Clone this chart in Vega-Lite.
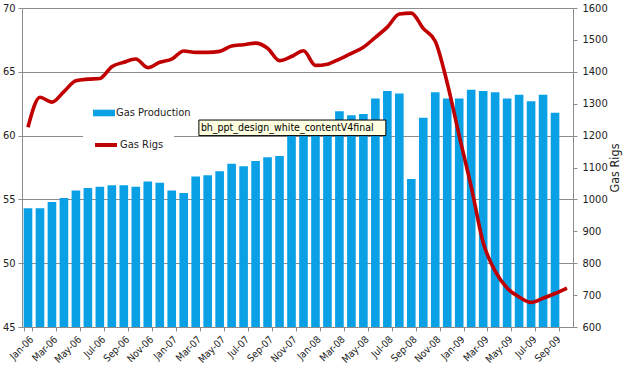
{
  "$schema": "https://vega.github.io/schema/vega-lite/v6.json",
  "width": 551,
  "height": 319,
  "autosize": {"type": "none"},
  "padding": {"left": 22, "top": 8, "right": 55, "bottom": 47},
  "background": "white",
  "config": {
    "view": {"stroke": null},
    "font": "DejaVu Sans Condensed, DejaVu Sans",
    "axis": {
      "domainColor": "#8c8c8c",
      "tickColor": "#8c8c8c",
      "gridColor": "#8c8c8c",
      "labelColor": "#222222",
      "labelFont": "DejaVu Sans Condensed, DejaVu Sans",
      "titleFont": "DejaVu Sans Condensed, DejaVu Sans",
      "labelFontSize": 11,
      "tickSize": 4
    },
    "legend": {"labelFont": "DejaVu Sans Condensed, DejaVu Sans", "labelColor": "#222222"}
  },
  "data": {
    "values": [
      {"month": "Jan-06", "production": 54.3, "rigs": 1226},
      {"month": "Feb-06", "production": 54.3, "rigs": 1320},
      {"month": "Mar-06", "production": 54.8, "rigs": 1305},
      {"month": "Apr-06", "production": 55.1, "rigs": 1338},
      {"month": "May-06", "production": 55.7, "rigs": 1372},
      {"month": "Jun-06", "production": 55.9, "rigs": 1377},
      {"month": "Jul-06", "production": 56.0, "rigs": 1379},
      {"month": "Aug-06", "production": 56.1, "rigs": 1416},
      {"month": "Sep-06", "production": 56.1, "rigs": 1430},
      {"month": "Oct-06", "production": 56.0, "rigs": 1440},
      {"month": "Nov-06", "production": 56.4, "rigs": 1413},
      {"month": "Dec-06", "production": 56.3, "rigs": 1430},
      {"month": "Jan-07", "production": 55.7, "rigs": 1440},
      {"month": "Feb-07", "production": 55.5, "rigs": 1465},
      {"month": "Mar-07", "production": 56.8, "rigs": 1461},
      {"month": "Apr-07", "production": 56.9, "rigs": 1461},
      {"month": "May-07", "production": 57.2, "rigs": 1464},
      {"month": "Jun-07", "production": 57.8, "rigs": 1481},
      {"month": "Jul-07", "production": 57.6, "rigs": 1485},
      {"month": "Aug-07", "production": 58.0, "rigs": 1490},
      {"month": "Sep-07", "production": 58.3, "rigs": 1474},
      {"month": "Oct-07", "production": 58.4, "rigs": 1435},
      {"month": "Nov-07", "production": 60.3, "rigs": 1448},
      {"month": "Dec-07", "production": 60.5, "rigs": 1466},
      {"month": "Jan-08", "production": 60.6, "rigs": 1420},
      {"month": "Feb-08", "production": 60.6, "rigs": 1424},
      {"month": "Mar-08", "production": 61.9, "rigs": 1440},
      {"month": "Apr-08", "production": 61.6, "rigs": 1458},
      {"month": "May-08", "production": 61.7, "rigs": 1477},
      {"month": "Jun-08", "production": 62.9, "rigs": 1508},
      {"month": "Jul-08", "production": 63.5, "rigs": 1540},
      {"month": "Aug-08", "production": 63.3, "rigs": 1581},
      {"month": "Sep-08", "production": 56.6, "rigs": 1584},
      {"month": "Oct-08", "production": 61.4, "rigs": 1536},
      {"month": "Nov-08", "production": 63.4, "rigs": 1496},
      {"month": "Dec-08", "production": 62.9, "rigs": 1365},
      {"month": "Jan-09", "production": 62.9, "rigs": 1200},
      {"month": "Feb-09", "production": 63.6, "rigs": 1040},
      {"month": "Mar-09", "production": 63.5, "rigs": 865},
      {"month": "Apr-09", "production": 63.4, "rigs": 775},
      {"month": "May-09", "production": 62.9, "rigs": 722},
      {"month": "Jun-09", "production": 63.2, "rigs": 694},
      {"month": "Jul-09", "production": 62.7, "rigs": 677},
      {"month": "Aug-09", "production": 63.2, "rigs": 690},
      {"month": "Sep-09", "production": 61.8, "rigs": 705},
      {"month": "Oct-09", "production": null, "rigs": 722}
    ]
  },
  "layer": [
    {
      "mark": {"type": "bar"},
      "encoding": {
        "x": {
          "field": "month",
          "type": "ordinal",
          "sort": null,
          "scale": {
            "domain": ["Jan-06","Feb-06","Mar-06","Apr-06","May-06","Jun-06","Jul-06","Aug-06","Sep-06","Oct-06","Nov-06","Dec-06","Jan-07","Feb-07","Mar-07","Apr-07","May-07","Jun-07","Jul-07","Aug-07","Sep-07","Oct-07","Nov-07","Dec-07","Jan-08","Feb-08","Mar-08","Apr-08","May-08","Jun-08","Jul-08","Aug-08","Sep-08","Oct-08","Nov-08","Dec-08","Jan-09","Feb-09","Mar-09","Apr-09","May-09","Jun-09","Jul-09","Aug-09","Sep-09","Oct-09"],
            "paddingInner": 0.28,
            "paddingOuter": 0.14
          },
          "axis": {
            "title": null,
            "values": ["Jan-06","Mar-06","May-06","Jul-06","Sep-06","Nov-06","Jan-07","Mar-07","May-07","Jul-07","Sep-07","Nov-07","Jan-08","Mar-08","May-08","Jul-08","Sep-08","Nov-08","Jan-09","Mar-09","May-09","Jul-09","Sep-09"],
            "labelAngle": -45,
            "labelFontSize": 10,
            "tickBand": "extent",
            "labelPadding": 3
          }
        },
        "y": {
          "field": "production",
          "type": "quantitative",
          "scale": {"domain": [45, 70], "zero": false, "nice": false},
          "axis": {
            "orient": "left",
            "title": null,
            "values": [45, 50, 55, 60, 65, 70],
            "grid": true,
            "labelPadding": 3
          }
        },
        "y2": {"datum": 45},
        "fill": {
          "datum": "Gas Production",
          "scale": {"range": ["#0AA0E6"]},
          "legend": {
            "title": null,
            "orient": "none",
            "legendX": 71,
            "legendY": 94,
            "padding": 0,
            "symbolType": "M-1,-0.3H1V0.3H-1Z",
            "symbolSize": 484,
            "symbolStrokeWidth": 0,
            "labelFontSize": 11,
            "labelOffset": 1
          }
        }
      }
    },
    {
      "data": {"values": [{"label": "bh_ppt_design_white_contentV4final"}]},
      "mark": {"type": "rect", "fill": "#FFFFE1", "stroke": "#000000", "strokeWidth": 1},
      "encoding": {
        "x": {"datum": "Mar-07", "type": "ordinal", "bandPosition": 0.87},
        "x2": {"datum": "Jul-08", "bandPosition": 0.33},
        "y": {"datum": 61.22, "type": "quantitative", "scale": {"domain": [45, 70], "nice": false, "zero": false}, "axis": null},
        "y2": {"datum": 60.0}
      }
    },
    {
      "data": {"values": [{"label": "bh_ppt_design_white_contentV4final"}]},
      "mark": {"type": "text", "align": "left", "baseline": "middle", "fontSize": 10.5, "dx": 2, "color": "#000000"},
      "encoding": {
        "x": {"datum": "Mar-07", "type": "ordinal", "bandPosition": 0.87},
        "y": {"datum": 60.61, "type": "quantitative", "scale": {"domain": [45, 70], "nice": false, "zero": false}, "axis": null},
        "text": {"field": "label"}
      }
    },
    {
      "mark": {"type": "line", "strokeWidth": 3.6, "interpolate": "monotone"},
      "encoding": {
        "x": {"field": "month", "type": "ordinal", "sort": null},
        "y": {
          "field": "rigs",
          "type": "quantitative",
          "scale": {"domain": [600, 1600], "zero": false, "nice": false},
          "axis": {
            "orient": "right",
            "title": "Gas Rigs",
            "titleFontSize": 12.5,
            "titleFontWeight": "normal",
            "titleColor": "#222222",
            "titleAngle": -90,
            "titleBaseline": "top",
            "titlePadding": 1,
            "format": "d",
            "values": [600, 700, 800, 900, 1000, 1100, 1200, 1300, 1400, 1500, 1600],
            "grid": false,
            "labelPadding": 5
          }
        },
        "stroke": {
          "datum": "Gas Rigs",
          "scale": {"range": ["#C00000"]},
          "legend": {
            "title": null,
            "orient": "none",
            "legendX": 61,
            "legendY": 114,
            "padding": 10,
            "fillColor": "white",
            "symbolType": "stroke",
            "symbolSize": 484,
            "symbolStrokeWidth": 4,
            "labelFontSize": 11,
            "labelOffset": 1
          }
        }
      }
    }
  ],
  "resolve": {"scale": {"y": "independent"}}
}
